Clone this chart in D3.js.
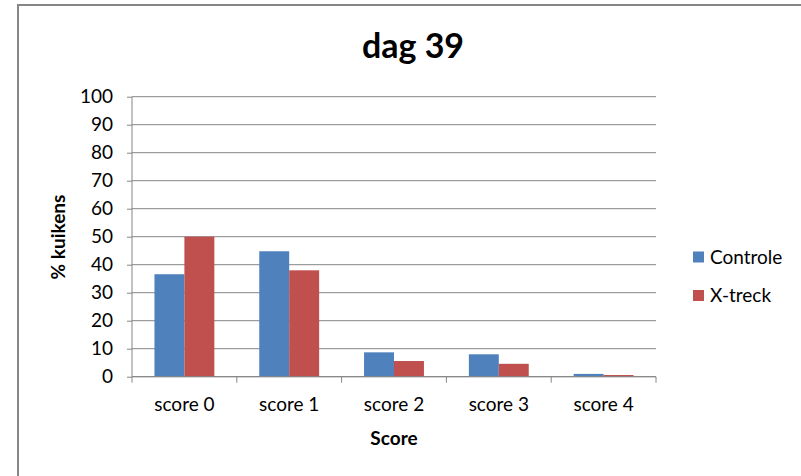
<!DOCTYPE html>
<html><head><meta charset="utf-8">
<script src="https://cdn.jsdelivr.net/npm/d3@7"></script>
<style>body{margin:0;background:#fff}svg{display:block}text{font-family:Lato,"Liberation Sans",sans-serif}</style>
</head><body><svg id="c" width="801" height="476"></svg>
<script>
const categories = ["score 0","score 1","score 2","score 3","score 4"];
const seriesNames = ["Controle","X-treck"];
const controle = [36.6, 44.8, 8.7, 8.0, 1.0];
const xtreck = [50.0, 38.0, 5.6, 4.6, 0.6];
const yTicks = [0,10,20,30,40,50,60,70,80,90,100];
const colors = ["#4F81BD","#C0504D"];

const svg = d3.select("#c");
svg.append("rect").attr("x",18).attr("y",5).attr("width",820).attr("height",500)
  .attr("fill","#fff").attr("stroke","#868686").attr("stroke-width",2);

const L=132, R=656, T=96.7, B=376.7;
const x = d3.scaleBand().domain(categories).range([L,R]).paddingInner(0).paddingOuter(0);
const x1 = d3.scaleBand().domain(seriesNames).range([0,x.bandwidth()]).paddingInner(0).paddingOuter(0.75);
const y = d3.scaleLinear().domain([0,100]).range([B,T]);

// gridlines
svg.append("g").selectAll("line").data(yTicks).join("line")
  .attr("x1",L).attr("x2",R).attr("y1",d=>y(d)).attr("y2",d=>y(d))
  .attr("stroke","#868686").attr("stroke-width",1);

const data = categories.map((c,i)=>({c, vals:[controle[i],xtreck[i]]}));
svg.append("g").selectAll("g").data(data).join("g")
  .attr("transform",d=>`translate(${x(d.c)},0)`)
  .selectAll("rect").data(d=>d.vals.map((v,j)=>({s:seriesNames[j],v,j}))).join("rect")
  .attr("x",d=>x1(d.s)).attr("width",x1.bandwidth())
  .attr("y",d=>y(d.v)).attr("height",d=>B-y(d.v))
  .attr("fill",d=>colors[d.j]);

// y axis
const ya = svg.append("g").attr("transform",`translate(${L},0)`)
  .call(d3.axisLeft(y).tickValues(yTicks).tickSize(5).tickPadding(14));
ya.select(".domain").attr("stroke","#868686").attr("d",`M0,${T}V${B}`);
ya.selectAll(".tick line").attr("stroke","#868686");
ya.selectAll("text").attr("font-size",19).attr("fill","#000");

// x axis
const xa = svg.append("g").attr("transform",`translate(0,${B})`)
  .call(d3.axisBottom(x).tickSize(0).tickPadding(21));
xa.select(".domain").attr("stroke","#868686").attr("d",`M${L},0H${R}`);
xa.selectAll("text").attr("font-size",19).attr("fill","#000");
xa.selectAll(".sep").data(d3.range(categories.length+1)).join("line").attr("class","sep")
  .attr("x1",i=>L+i*x.bandwidth()).attr("x2",i=>L+i*x.bandwidth())
  .attr("y1",0).attr("y2",6).attr("stroke","#868686");

// titles
svg.append("text").attr("x",413).attr("y",58).attr("text-anchor","middle")
  .attr("font-size",34).attr("font-weight","bold").text("dag 39");
svg.append("text").attr("x",394).attr("y",445).attr("text-anchor","middle")
  .attr("font-size",19).attr("font-weight","bold").text("Score");
svg.append("text").attr("transform","translate(65,237) rotate(-90)").attr("text-anchor","middle")
  .attr("font-size",19).attr("font-weight","bold").text("% kuikens");

// legend
const lg = svg.append("g").selectAll("g").data(seriesNames).join("g")
  .attr("transform",(d,i)=>`translate(693,${251.5+i*38.5})`);
lg.append("rect").attr("width",11).attr("height",11).attr("fill",(d,i)=>colors[i]);
lg.append("text").attr("x",17).attr("y",12).attr("font-size",19).text(d=>d);
</script></body></html>
